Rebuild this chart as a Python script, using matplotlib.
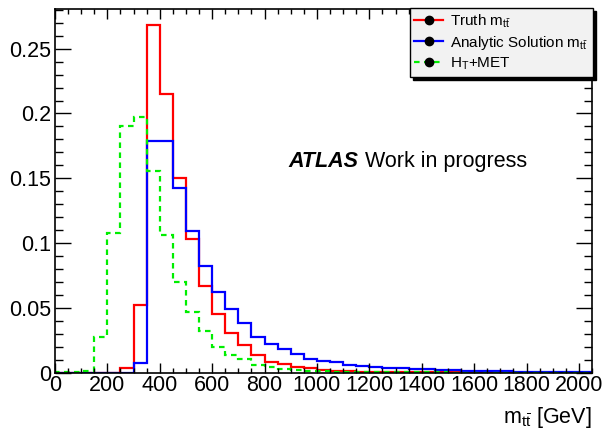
import numpy as np
import matplotlib
matplotlib.use("Agg")
import matplotlib.pyplot as plt
from matplotlib.lines import Line2D
from matplotlib.ticker import MultipleLocator

plt.rcParams["font.family"] = ["Liberation Sans", "DejaVu Sans"]
plt.rcParams["mathtext.fontset"] = "custom"
plt.rcParams["mathtext.rm"] = "Liberation Sans"
plt.rcParams["mathtext.it"] = "Liberation Sans:italic"

# bin edges in GeV (50 GeV bins)
bin_edges = np.arange(0, 2051, 50)

truth = [0, 0, 0, 0, 0, 0.0034, 0.052, 0.268, 0.215, 0.150,
         0.103, 0.067, 0.045, 0.031, 0.021, 0.014, 0.0085, 0.0065, 0.0045, 0.0034,
         0.0022, 0.0016, 0.0012, 0.0009, 0.0007, 0.0006, 0.0005, 0.0004, 0.0003, 0.0003,
         0.0003, 0.0002, 0.0002, 0.0002, 0.0001, 0.0001, 0.0001, 0.0001, 0.0001, 0.0001,
         0.0001]
analytic = [0, 0, 0, 0, 0, 0, 0.0075, 0.1785, 0.179, 0.1425,
            0.1096, 0.0823, 0.0623, 0.049, 0.038, 0.0275, 0.022, 0.018, 0.0142, 0.0108,
            0.0093, 0.008, 0.0062, 0.0052, 0.0046, 0.0039, 0.0034, 0.003, 0.0025, 0.002,
            0.0017, 0.0015, 0.0013, 0.0011, 0.0010, 0.0009, 0.0008, 0.0007, 0.0006, 0.0006,
            0.0005]
ht_met = [0.0003, 0.0003, 0.0015, 0.0275, 0.108, 0.190, 0.197, 0.156, 0.1065, 0.070,
          0.047, 0.032, 0.0196, 0.0139, 0.0103, 0.006, 0.0045, 0.003, 0.002, 0.0015,
          0.001, 0.0008, 0.0006, 0.0005, 0.0004, 0.0003, 0.0003, 0.0002, 0.0002, 0.0002,
          0.0001, 0.0001, 0.0001, 0.0001, 0.0001, 0.0001, 0.0001, 0.0001, 0.0001, 0.0001,
          0.0001]

labels = [r"Truth m$_{\mathregular{t\bar{t}}}$",
          r"Analytic Solution m$_{\mathregular{t\bar{t}}}$",
          r"H$_{\mathregular{T}}$+MET"]

fig = plt.figure(figsize=(6.05, 4.36), dpi=100)
ax = fig.add_axes([55 / 605, 1 - 372.7 / 436, (592 - 55) / 605, (372.7 - 9) / 436])

ax.stairs(truth, bin_edges, color="#ff0000", linewidth=1.6)
ax.stairs(analytic, bin_edges, color="#0000ff", linewidth=1.6)
ax.stairs(ht_met, bin_edges, color="#00ee00", linewidth=1.6, linestyle=(0, (2.5, 2)))

ax.set_xlim(0, 2050)
ax.set_ylim(0, 0.2806)

ax.xaxis.set_major_locator(MultipleLocator(200))
ax.xaxis.set_minor_locator(MultipleLocator(50))
ax.yaxis.set_minor_locator(MultipleLocator(0.01))
ax.set_yticks([0, 0.05, 0.1, 0.15, 0.2, 0.25])
ax.set_yticklabels(["0", "0.05", "0.1", "0.15", "0.2", "0.25"])

ax.tick_params(axis="both", which="both", direction="in", top=True, right=True,
               labelsize=15.5, width=1)
ax.tick_params(axis="x", which="major", length=7.5, pad=2)
ax.tick_params(axis="x", which="minor", length=3.8)
ax.tick_params(axis="y", which="major", length=11.5, pad=3)
ax.tick_params(axis="y", which="minor", length=5.8)
for s in ax.spines.values():
    s.set_linewidth(1.2)

ax.set_xlabel(r"m$_{\mathregular{t\bar{t}}}$ [GeV]", fontsize=15.5, loc="right", labelpad=6)

ax.text((288 - 55) / 537, 0.566, "ATLAS", transform=ax.transAxes, fontsize=15.5,
        fontweight="bold", style="italic", va="baseline")
ax.text((365 - 55) / 537, 0.566, "Work in progress", transform=ax.transAxes,
        fontsize=15.5, va="baseline")

handles = [
    Line2D([], [], color="#ff0000", lw=1.6, marker="o", mfc="black", mec="black", ms=6),
    Line2D([], [], color="#0000ff", lw=1.6, marker="o", mfc="black", mec="black", ms=6),
    Line2D([], [], color="#00ee00", lw=1.6, ls=(0, (2.5, 2)), marker="o",
           mfc="black", mec="black", ms=6),
]
leg = fig.legend(handles, labels, loc="upper right",
                 bbox_to_anchor=(593 / 605, 1 - 8 / 436), fontsize=11,
                 frameon=True, fancybox=False, framealpha=1,
                 shadow={"ox": 2.5, "oy": -2.5, "color": "black", "alpha": 1},
                 edgecolor="black", handlelength=1.9, borderpad=0.3,
                 labelspacing=0.25, handletextpad=0.45, borderaxespad=0)
leg.get_frame().set_linewidth(1)
leg.get_frame().set_facecolor("#f2f2f2")

fig.savefig("out.png", dpi=100)
